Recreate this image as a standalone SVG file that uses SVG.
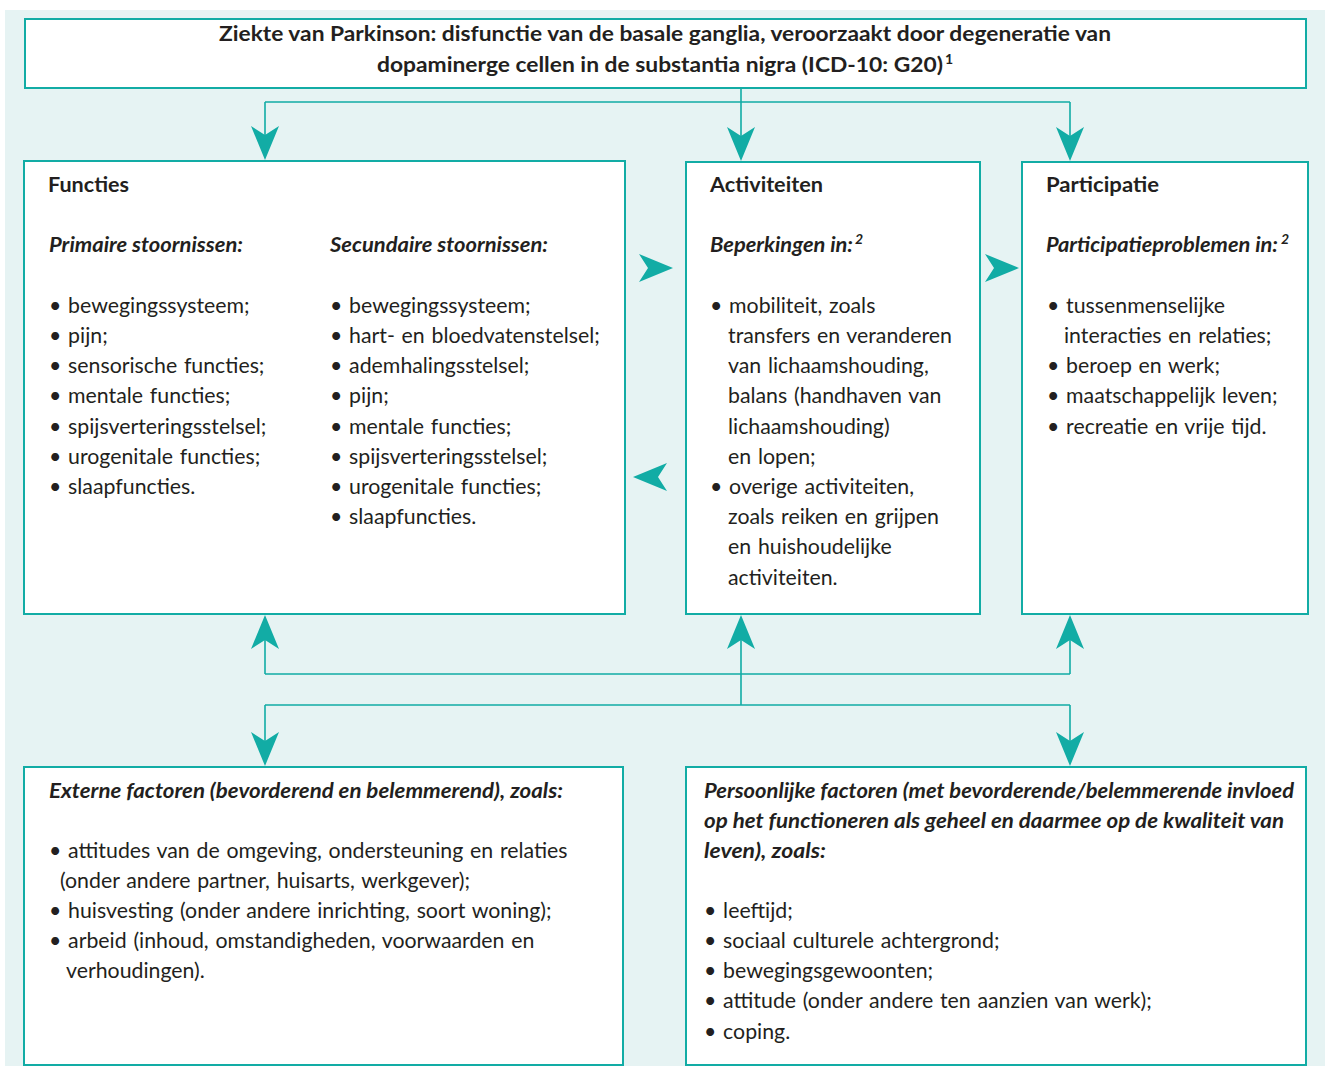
<svg xmlns="http://www.w3.org/2000/svg" width="1325" height="1066" viewBox="0 0 1325 1066">
<style>
.box{fill:#ffffff;stroke:#12aca5;stroke-width:2}
.ln{fill:none;stroke:#12aca5;stroke-width:1.6}
.ah{fill:#12aca5}
text{font-family:Lato,"Liberation Sans",sans-serif;font-size:21.3px;fill:#231f20;word-spacing:1.3px}
.b{font-weight:bold;font-size:21px;word-spacing:0}
.bi{font-weight:bold;font-style:italic;font-size:21px;word-spacing:0}
.sup{font-size:14px}
</style>
<defs>
<path id="down" d="M0,0 L-14,-34 L0,-25 L14,-34 Z"/>
<path id="right" d="M0,0 L-34,-14 L-25,0 L-34,14 Z"/>
</defs>
<rect x="5" y="10" width="1320" height="1056" fill="#e6f3f3"/>

<g id="connectors">
<path class="ln" d="M741,88 V102 M265,102 H1070 M265,102 V140 M741,102 V140 M1070,102 V140"/>
<use href="#down" class="ah" transform="translate(265,160)"/>
<use href="#down" class="ah" transform="translate(741,161)"/>
<use href="#down" class="ah" transform="translate(1070,161)"/>
<use href="#right" class="ah" transform="translate(673,268)"/>
<use href="#right" class="ah" transform="translate(1019,268)"/>
<use href="#right" class="ah" transform="translate(633,477) rotate(180)"/>
<path class="ln" d="M265,674 H1070 M265,674 V640 M1070,674 V640 M741,705 V640 M265,705 H1070 M265,705 V745 M1070,705 V745"/>
<use href="#down" class="ah" transform="translate(265,615) rotate(180)"/>
<use href="#down" class="ah" transform="translate(741,615) rotate(180)"/>
<use href="#down" class="ah" transform="translate(1070,615) rotate(180)"/>
<use href="#down" class="ah" transform="translate(265,766)"/>
<use href="#down" class="ah" transform="translate(1070,766)"/>
</g>

<g id="ziekte">
<rect class="box" x="25" y="19" width="1281" height="69"/>
<text class="b" x="219" y="41" textLength="892" lengthAdjust="spacingAndGlyphs">Ziekte van Parkinson: disfunctie van de basale ganglia, veroorzaakt door degeneratie van</text>
<text class="b" x="377" y="72" textLength="566" lengthAdjust="spacingAndGlyphs">dopaminerge cellen in de substantia nigra (ICD-10: G20)</text>
<text class="b sup" x="945" y="64">1</text>
</g>

<g id="functies">
<rect class="box" x="24" y="161" width="601" height="453"/>
<text class="b" x="48" y="192" textLength="81" lengthAdjust="spacingAndGlyphs">Functies</text>
<text class="bi" x="49" y="252" textLength="194" lengthAdjust="spacingAndGlyphs">Primaire stoornissen:</text>
<text x="49" y="313">• bewegingssysteem;</text>
<text x="49" y="343">• pijn;</text>
<text x="49" y="373">• sensorische functies;</text>
<text x="49" y="403">• mentale functies;</text>
<text x="49" y="434">• spijsverteringsstelsel;</text>
<text x="49" y="464">• urogenitale functies;</text>
<text x="49" y="494">• slaapfuncties.</text>
<text class="bi" x="330" y="252" textLength="218" lengthAdjust="spacingAndGlyphs">Secundaire stoornissen:</text>
<text x="330" y="313">• bewegingssysteem;</text>
<text x="330" y="343">• hart- en bloedvatenstelsel;</text>
<text x="330" y="373">• ademhalingsstelsel;</text>
<text x="330" y="403">• pijn;</text>
<text x="330" y="434">• mentale functies;</text>
<text x="330" y="464">• spijsverteringsstelsel;</text>
<text x="330" y="494">• urogenitale functies;</text>
<text x="330" y="524">• slaapfuncties.</text>
</g>

<g id="activiteiten">
<rect class="box" x="686" y="162" width="294" height="452"/>
<text class="b" x="710" y="192" textLength="113" lengthAdjust="spacingAndGlyphs">Activiteiten</text>
<text class="bi" x="710" y="252" textLength="143" lengthAdjust="spacingAndGlyphs">Beperkingen in:</text>
<text class="bi sup" x="855" y="244">2</text>
<text x="710" y="313">• mobiliteit, zoals</text>
<text x="728" y="343">transfers en veranderen</text>
<text x="728" y="373">van lichaamshouding,</text>
<text x="728" y="403">balans (handhaven van</text>
<text x="728" y="434">lichaamshouding)</text>
<text x="728" y="464">en lopen;</text>
<text x="710" y="494">• overige activiteiten,</text>
<text x="728" y="524">zoals reiken en grijpen</text>
<text x="728" y="554">en huishoudelijke</text>
<text x="728" y="585">activiteiten.</text>
</g>

<g id="participatie">
<rect class="box" x="1022" y="162" width="286" height="452"/>
<text class="b" x="1046" y="192" textLength="113" lengthAdjust="spacingAndGlyphs">Participatie</text>
<text class="bi" x="1046" y="252" textLength="232" lengthAdjust="spacingAndGlyphs">Participatieproblemen in:</text>
<text class="bi sup" x="1281" y="244">2</text>
<text x="1047" y="313">• tussenmenselijke</text>
<text x="1064" y="343">interacties en relaties;</text>
<text x="1047" y="373">• beroep en werk;</text>
<text x="1047" y="403">• maatschappelijk leven;</text>
<text x="1047" y="434">• recreatie en vrije tijd.</text>
</g>

<g id="externe">
<rect class="box" x="24" y="767" width="599" height="298"/>
<text class="bi" x="49" y="798" textLength="514" lengthAdjust="spacingAndGlyphs">Externe factoren (bevorderend en belemmerend), zoals:</text>
<text x="49" y="858">• attitudes van de omgeving, ondersteuning en relaties</text>
<text x="60" y="888">(onder andere partner, huisarts, werkgever);</text>
<text x="49" y="918">• huisvesting (onder andere inrichting, soort woning);</text>
<text x="49" y="948">• arbeid (inhoud, omstandigheden, voorwaarden en</text>
<text x="66" y="978">verhoudingen).</text>
</g>

<g id="persoonlijke">
<rect class="box" x="686" y="767" width="620" height="298"/>
<text class="bi" x="704" y="798" textLength="590" lengthAdjust="spacingAndGlyphs">Persoonlijke factoren (met bevorderende/belemmerende invloed</text>
<text class="bi" x="704" y="828" textLength="580" lengthAdjust="spacingAndGlyphs">op het functioneren als geheel en daarmee op de kwaliteit van</text>
<text class="bi" x="704" y="858" textLength="122" lengthAdjust="spacingAndGlyphs">leven), zoals:</text>
<text x="704" y="918">• leeftijd;</text>
<text x="704" y="948">• sociaal culturele achtergrond;</text>
<text x="704" y="978">• bewegingsgewoonten;</text>
<text x="704" y="1008">• attitude (onder andere ten aanzien van werk);</text>
<text x="704" y="1039">• coping.</text>
</g>
</svg>
